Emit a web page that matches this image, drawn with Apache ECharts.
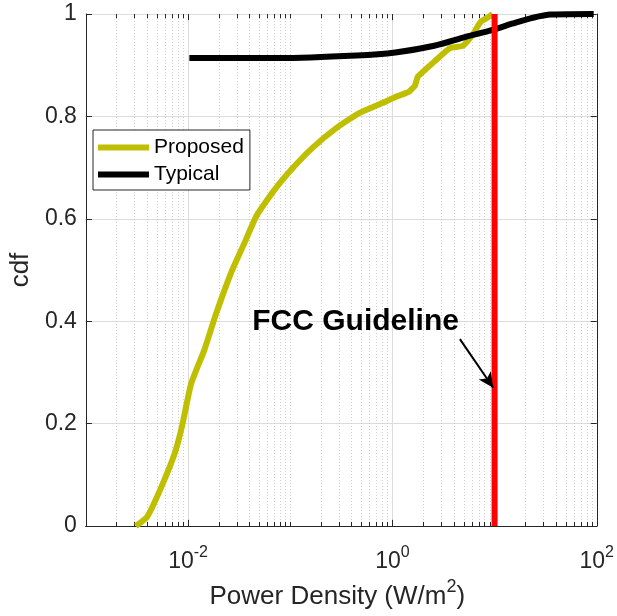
<!DOCTYPE html>
<html>
<head>
<meta charset="utf-8">
<script src="https://cdn.jsdelivr.net/npm/echarts@6/dist/echarts.min.js"></script>
<style>html,body{margin:0;padding:0;background:#fff}#c{width:617px;height:616px}</style>
</head>
<body>
<div id="c"></div>
<script>
// ---- data ----
const proposedX = [0.00309,0.00398,0.0055,0.00741,0.00871,0.01072,0.01445,0.01862,0.0263,0.0355,0.0468,0.0692,0.107,0.166,0.282,0.468,0.794,1.07,1.445,1.66,1.78,2.57,3.63,4.9,6.17,7.24,8.71,9.55];
const proposedY = [0,0.018,0.077,0.142,0.194,0.278,0.344,0.412,0.494,0.552,0.606,0.655,0.700,0.739,0.777,0.806,0.826,0.838,0.848,0.860,0.878,0.907,0.933,0.938,0.961,0.984,0.994,1.0];
const typicalX = [0.0103,0.0776,0.447,1.07,2.57,5.13,9.55,14.8,22.9,35.5,93.3];
const typicalY = [0.914,0.914,0.919,0.925,0.938,0.955,0.969,0.981,0.992,0.999,1.0];
const fccX = [10,10];
const fccY = [0,1];
const annotText = 'FCC Guideline';
const annotPos = [0.0425, 0.398];
const arrowFrom = [4.58, 0.365];
const arrowTo = [9.7, 0.27];
const labeledExps = [-2,0,2];
const decades = [-3,-2,-1,0,1];
const minorMults = [2,3,4,5,6,7,8,9];

// ---- decoration positions ----
const minorPos = [];
decades.forEach(d => minorMults.forEach(m => minorPos.push(m*Math.pow(10,d))));
const oddDecadePos = [0.1, 10];
const majorPos = [0.01, 1];

const zip = (xs, ys) => xs.map((x,i)=>[x, ys[i]]);
const gridCol = '#dcdcdc';
const axisCol = '#262626';

const gridLines = [];
minorPos.concat(oddDecadePos).forEach(x => gridLines.push([
  {coord:[x,0], lineStyle:{color:'#cfcfcf', type:[1,2], width:1}}, {coord:[x,1]}]));
majorPos.forEach(x => gridLines.push([
  {coord:[x,0], lineStyle:{color:gridCol, type:'solid', width:1}}, {coord:[x,1]}]));
const tickLines = [];
minorPos.concat(oddDecadePos).forEach(x => {
  tickLines.push([{coord:[x,0], lineStyle:{color:axisCol,width:1,type:'solid'}},{coord:[x,0.008]}]);
  tickLines.push([{coord:[x,1], lineStyle:{color:axisCol,width:1,type:'solid'}},{coord:[x,0.992]}]);
});
majorPos.forEach(x => {
  tickLines.push([{coord:[x,0], lineStyle:{color:axisCol,width:1,type:'solid'}},{coord:[x,0.012]}]);
  tickLines.push([{coord:[x,1], lineStyle:{color:axisCol,width:1,type:'solid'}},{coord:[x,0.988]}]);
});

const chart = echarts.init(document.getElementById('c'), null, {renderer:'canvas'});
const font = '"Liberation Sans", Arial, Helvetica, sans-serif';
chart.setOption({
  animation:false,
  backgroundColor:'#fff',
  textStyle:{fontFamily:font},
  grid:{left:80, right:19, top:14, bottom:90, containLabel:false},
  legend:{
    data:[{name:'Proposed', icon:'rect'},{name:'Typical', icon:'rect'}], orient:'vertical', left:93, top:130, z:10,
    itemWidth:51, itemHeight:6, itemGap:6,
    padding:[7,6,5,5], borderColor:axisCol, borderWidth:1, backgroundColor:'#fff',
    textStyle:{fontSize:21, color:'#000', fontFamily:font}
  },
  xAxis:[{
    type:'log', logBase:10, min:0.001, max:100,
    axisLine:{show:true, lineStyle:{color:axisCol,width:1}},
    axisTick:{show:false}, splitLine:{show:false},
    axisLabel:{margin:19, color:axisCol,
      formatter: v => { const e = Math.round(Math.log10(v)); return labeledExps.includes(e) ? '{b|10}{s|'+e+'}' : ''; },
      rich:{b:{fontSize:23, color:axisCol, fontFamily:font}, s:{fontSize:16, color:axisCol, fontFamily:font, padding:[0,0,17,0]}}},
    name:'{a|Power Density (W/m}{s|2}{a|)}', nameLocation:'middle', nameGap:52,
    nameTextStyle:{padding:[0,8,0,0], rich:{a:{fontSize:26,color:axisCol,fontFamily:font}, s:{fontSize:18,color:axisCol,fontFamily:font,padding:[0,0,20,0]}}}
  },{
    type:'log', logBase:10, min:0.001, max:100, position:'top',
    axisLine:{show:true, lineStyle:{color:axisCol,width:1}},
    axisTick:{show:false}, axisLabel:{show:false}, splitLine:{show:false}
  }],
  yAxis:[{
    type:'value', min:0, max:1, interval:0.2,
    axisLine:{show:true, lineStyle:{color:axisCol,width:1}},
    axisTick:{show:true, inside:true, length:6, lineStyle:{color:axisCol}},
    axisLabel:{fontSize:23, color:axisCol, margin:9, fontFamily:font, formatter: v => String(+v.toFixed(1))},
    splitLine:{show:true, lineStyle:{color:gridCol, width:1}},
    name:'cdf', nameLocation:'middle', nameGap:48, nameTextStyle:{fontSize:26, color:axisCol, fontFamily:font}
  },{
    type:'value', min:0, max:1, interval:0.2, position:'right',
    axisLine:{show:true, lineStyle:{color:axisCol,width:1}},
    axisTick:{show:true, inside:true, length:6, lineStyle:{color:axisCol}},
    axisLabel:{show:false}, splitLine:{show:false}
  }],
  series:[
    {name:'grid', type:'line', data:[], z:0, silent:true,
     markLine:{silent:true, z:0, symbol:['none','none'], label:{show:false}, animation:false, data:gridLines}},
    {name:'ticks', type:'line', data:[], z:1, silent:true,
     markLine:{silent:true, z:1, symbol:['none','none'], label:{show:false}, animation:false, data:tickLines}},
    {name:'Proposed', type:'line', data:zip(proposedX, proposedY), showSymbol:false, symbol:'none', clip:false, z:3,
     lineStyle:{color:'#BFBF00', width:6}, itemStyle:{color:'#BFBF00'}, smooth:0.15},
    {name:'Typical', type:'line', data:zip(typicalX, typicalY), showSymbol:false, symbol:'none', clip:false, z:3,
     lineStyle:{color:'#000', width:6}, itemStyle:{color:'#000'}, smooth:0.3},
    {name:'FCC', type:'line', data:zip(fccX, fccY), showSymbol:false, symbol:'none', clip:false, z:4,
     lineStyle:{color:'#FF0000', width:6}, itemStyle:{color:'#FF0000'},
     markLine:{silent:true, z:6, symbol:['none','arrow'], symbolSize:[11,15], label:{show:false},
       lineStyle:{color:'#000', width:2, type:'solid'},
       data:[[{coord:arrowFrom},{coord:arrowTo}]]},
     markPoint:{silent:true, z:6, symbol:'circle', symbolSize:0,
       data:[{coord:annotPos, label:{show:true, position:'inside', align:'left', verticalAlign:'middle',
         formatter:annotText, fontSize:30, fontWeight:'bold', color:'#000', fontFamily:font}}]}}
  ]
});
</script>
</body>
</html>
